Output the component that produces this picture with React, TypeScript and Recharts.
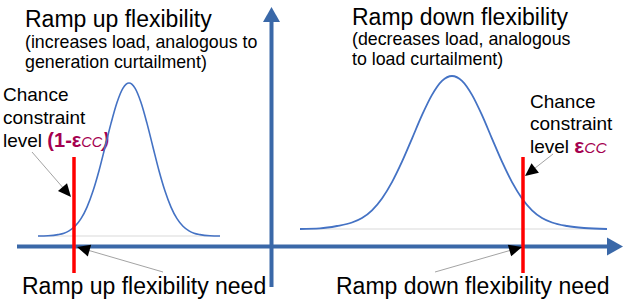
import { ComposedChart, Customized, Line, ReferenceLine, XAxis, YAxis } from "recharts";

// values (x in px across, y = height above the page bottom)
const upCurve = [
  { x: 38, y: 70 }, { x: 48, y: 70.3 }, { x: 58, y: 71.4 }, { x: 64, y: 72.8 },
  { x: 69, y: 75.1 }, { x: 75, y: 79.7 }, { x: 81, y: 87.3 }, { x: 87, y: 98.9 },
  { x: 93, y: 115 }, { x: 99, y: 135.3 }, { x: 105, y: 158.8 }, { x: 111, y: 182.6 },
  { x: 117, y: 203.5 }, { x: 123, y: 217.9 }, { x: 129, y: 223 }, { x: 135, y: 217.9 },
  { x: 141, y: 203.5 }, { x: 147, y: 182.6 }, { x: 153, y: 158.8 }, { x: 159, y: 135.3 },
  { x: 165, y: 115 }, { x: 171, y: 98.9 }, { x: 177, y: 87.3 }, { x: 183, y: 79.7 },
  { x: 189, y: 75.1 }, { x: 194, y: 72.8 }, { x: 200, y: 71.4 }, { x: 210, y: 70.3 },
  { x: 220, y: 70 },
];

const downCurve = [
  { x: 300, y: 77 }, { x: 320, y: 77.6 }, { x: 337, y: 80 }, { x: 352, y: 83.5 },
  { x: 362, y: 88 }, { x: 372, y: 95.7 }, { x: 382, y: 107.6 }, { x: 392, y: 123.9 },
  { x: 402, y: 144.3 }, { x: 412, y: 167.4 }, { x: 422, y: 190.8 }, { x: 432, y: 211.1 },
  { x: 442, y: 225.1 }, { x: 452, y: 230 }, { x: 462, y: 225.1 }, { x: 472, y: 211.1 },
  { x: 482, y: 190.8 }, { x: 492, y: 167.4 }, { x: 502, y: 144.3 }, { x: 512, y: 123.9 },
  { x: 522, y: 107.6 }, { x: 532, y: 95.7 }, { x: 542, y: 88 }, { x: 552, y: 83.5 },
  { x: 567, y: 80 }, { x: 584, y: 78 }, { x: 607, y: 77 },
];

const upBaseline = [{ x: 38, y: 70 }, { x: 220, y: 70 }];
const downBaseline = [{ x: 300, y: 77 }, { x: 607, y: 77 }];

const xAxisLine = [{ x: 17, y: 59.5 }, { x: 623, y: 59.5 }];
const yAxisLine = [{ x: 271.5, y: 19 }, { x: 271.5, y: 299 }];

const upLimit = [{ x: 74, y: 33 }, { x: 74, y: 149 }];
const downLimit = [{ x: 523, y: 33 }, { x: 523, y: 149 }];

const pointers = [
  [{ x: 32, y: 154 }, { x: 71, y: 109 }],
  [{ x: 163, y: 34 }, { x: 77, y: 59 }],
  [{ x: 553, y: 152 }, { x: 525, y: 130 }],
  [{ x: 435, y: 34 }, { x: 522, y: 59 }],
];

const AXIS = "#3a68a8";
const CURVE = "#4472c4";
const ACCENT = "#a5004f";
const FONT = "'Liberation Sans', Arial, sans-serif";

const arrow =
  (head: number, half: number, lineColor: string, lineWidth: number, headColor: string) =>
  (p: any) => {
    const { x1, y1, x2, y2 } = p;
    const dx = x2 - x1;
    const dy = y2 - y1;
    const len = Math.hypot(dx, dy) || 1;
    const ux = dx / len;
    const uy = dy / len;
    const bx = x2 - ux * head;
    const by = y2 - uy * head;
    return (
      <g>
        <line x1={x1} y1={y1} x2={bx + ux} y2={by + uy} stroke={lineColor} strokeWidth={lineWidth} />
        <polygon
          points={`${x2},${y2} ${bx - uy * half},${by + ux * half} ${bx + uy * half},${by - ux * half}`}
          fill={headColor}
        />
      </g>
    );
  };

const Labels = () => (
  <g fontFamily={FONT} fill="#000">
    <text x={25} y={27} fontSize={23}>Ramp up flexibility</text>
    <text x={25} y={48} fontSize={17.8}>(increases load, analogous to</text>
    <text x={25} y={68} fontSize={17.8}>generation curtailment)</text>

    <text x={3} y={101} fontSize={19}>Chance</text>
    <text x={3} y={124} fontSize={19}>constraint</text>
    <text x={3} y={147} fontSize={19}>
      level{" "}
      <tspan fill={ACCENT} fontWeight="bold" fontSize={20}>(1-ε</tspan>
      <tspan fill={ACCENT} fontStyle="italic" fontSize={14.5}>CC</tspan>
      <tspan fill={ACCENT} fontWeight="bold" fontStyle="italic" fontSize={20}>)</tspan>
    </text>

    <text x={352} y={25} fontSize={23}>Ramp down flexibility</text>
    <text x={352} y={45} fontSize={17.8}>(decreases load, analogous</text>
    <text x={352} y={65} fontSize={17.8}>to load curtailment)</text>

    <text x={530} y={108} fontSize={19}>Chance</text>
    <text x={530} y={130} fontSize={19}>constraint</text>
    <text x={530} y={153} fontSize={19}>
      level{" "}
      <tspan fill={ACCENT} fontWeight="bold" fontSize={21}>ε</tspan>
      <tspan fill={ACCENT} fontStyle="italic" fontSize={15.5}>CC</tspan>
    </text>

    <text x={22} y={294} fontSize={23}>Ramp up flexibility need</text>
    <text x={336} y={294} fontSize={23}>Ramp down flexibility need</text>
  </g>
);

export default function App() {
  return (
    <div style={{ position: "absolute", left: 0, top: 0, width: 623, height: 306, background: "#fff" }}>
      <ComposedChart width={623} height={306} margin={{ top: 0, right: 0, bottom: 0, left: 0 }}>
        <XAxis type="number" dataKey="x" domain={[0, 623]} hide />
        <YAxis type="number" dataKey="y" domain={[0, 306]} hide />

        <ReferenceLine segment={upBaseline} stroke="#d9d9d9" strokeWidth={1} ifOverflow="visible" />
        <ReferenceLine segment={downBaseline} stroke="#d9d9d9" strokeWidth={1} ifOverflow="visible" />

        <ReferenceLine segment={xAxisLine} ifOverflow="visible" shape={arrow(16, 9, AXIS, 4, AXIS)} />
        <ReferenceLine segment={yAxisLine} ifOverflow="visible" shape={arrow(15, 8.5, AXIS, 4, AXIS)} />

        <Line data={upCurve} dataKey="y" type="monotone" stroke={CURVE} strokeWidth={1.6} dot={false} activeDot={false} isAnimationActive={false} />
        <Line data={downCurve} dataKey="y" type="monotone" stroke={CURVE} strokeWidth={1.8} dot={false} activeDot={false} isAnimationActive={false} />

        <ReferenceLine segment={upLimit} stroke="#ff0000" strokeWidth={3.5} ifOverflow="visible" />
        <ReferenceLine segment={downLimit} stroke="#ff0000" strokeWidth={3.5} ifOverflow="visible" />

        {pointers.map((seg, i) => (
          <ReferenceLine key={i} segment={seg} ifOverflow="visible" shape={arrow(13, 6, "#8c8c8c", 0.8, "#000")} />
        ))}

        <Customized component={Labels} />
      </ComposedChart>
    </div>
  );
}
